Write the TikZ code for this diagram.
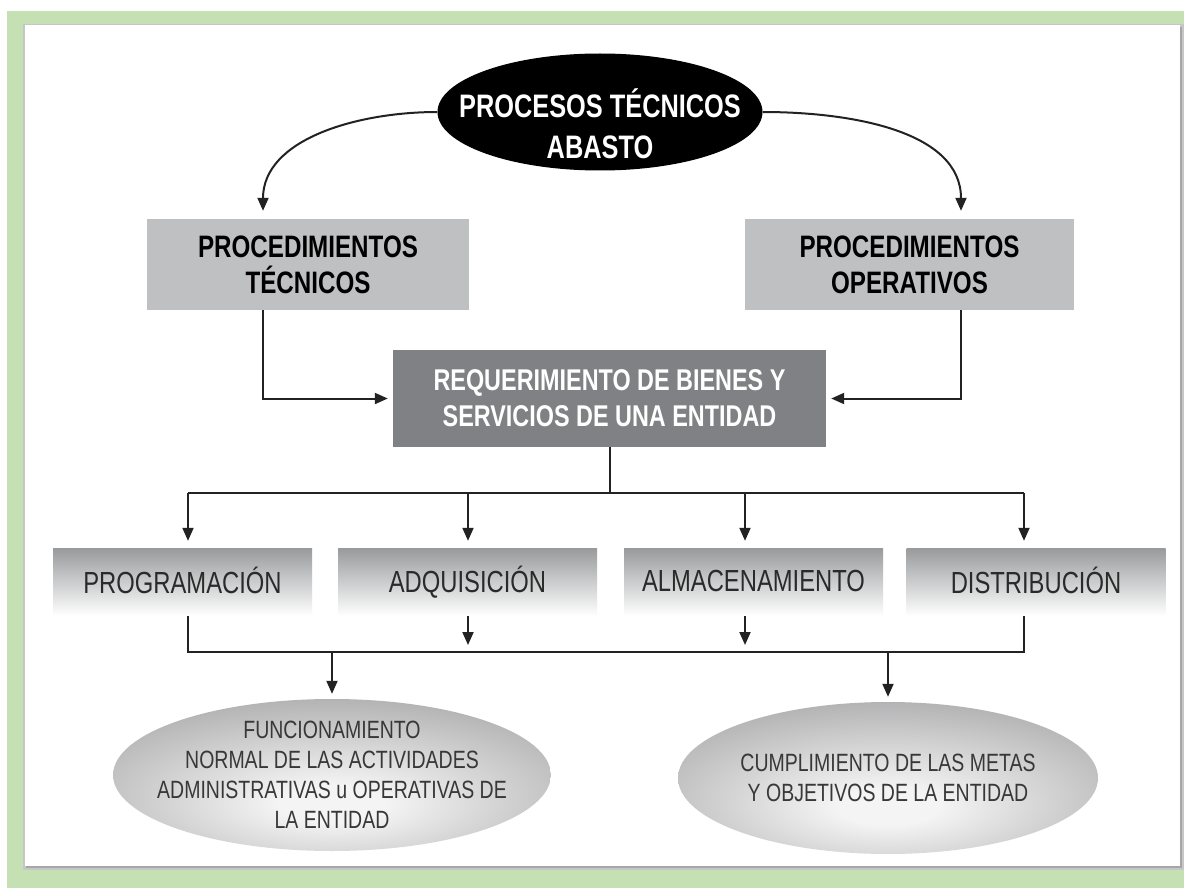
\documentclass[tikz,border=0pt]{standalone}
\usepackage{fontspec}
\setmainfont{Liberation Sans}[FakeStretch=0.78]
\usetikzlibrary{arrows.meta,shapes.geometric,calc}
\definecolor{bggreen}{HTML}{C5E0B3}
\definecolor{lightbox}{HTML}{BFC0C2}
\definecolor{darkbox}{HTML}{808184}
\definecolor{linec}{HTML}{222222}
\definecolor{rowtop}{HTML}{999A9C}
\definecolor{rowtxt}{HTML}{2A2A2A}
\definecolor{elltxt}{HTML}{383838}
\definecolor{ellouter}{HTML}{9A9A9C}
\definecolor{ellinner}{HTML}{F4F4F4}
\pgfdeclareradialshading{ellsh}{\pgfpoint{0bp}{-10bp}}{color(0bp)=(ellinner); color(6bp)=(ellinner); color(42bp)=(ellouter); color(100bp)=(ellouter)}
\begin{document}
\begin{tikzpicture}[x=1pt,y=-1pt,
  topell/.style={ellipse, fill=black, text=white, font=\fontsize{32.5}{38}\selectfont\bfseries,
    align=center, minimum width=325pt, minimum height=117pt, inner xsep=-45pt, inner ysep=-16pt},
  lbox/.style={rectangle, fill=lightbox, text=black, font=\fontsize{31}{36}\selectfont\bfseries,
    align=center, minimum height=91pt, inner sep=0pt},
  dbox/.style={rectangle, fill=darkbox, text=white, font=\fontsize{30}{36}\selectfont\bfseries,
    align=center, minimum width=433pt, minimum height=97pt, inner sep=0pt},
  rowbox/.style={rectangle, top color=rowtop, bottom color=white, text=rowtxt,
    font=\fontsize{30.5}{34}\selectfont, minimum width=259pt, minimum height=68pt, inner sep=0pt},
  endell/.style={ellipse, shading=ellsh, text=elltxt, font=\fontsize{25}{30}\selectfont,
    align=center, minimum width=420pt, minimum height=152pt, inner sep=-20pt},
  conn/.style={draw=linec, line width=2pt},
  arr/.style={conn, -{Triangle[length=13pt,width=11pt]}},
]
\useasboundingbox (0,0) rectangle (1184,888);
\fill[white] (0,0) rectangle (1184,888);
\fill[bggreen] (7,11) rectangle (1184,888);
\fill[gray!45] (23,24) rectangle (1184,870);
\fill[gray!70] (26,27) rectangle (1182,868);
\fill[white] (25,25) rectangle (1180,866);

% nodes
\node[topell] (top) at (600,112) {\raisebox{-17pt}[\height][\depth]{\begin{tabular}{@{}c@{}}PROCESOS TÉCNICOS\\[3pt]ABASTO\end{tabular}}};
\node[lbox, minimum width=322pt] (pt) at (308,264.5) {PROCEDIMIENTOS\\TÉCNICOS};
\node[lbox, minimum width=329pt] (po) at (909.5,264.5) {PROCEDIMIENTOS\\OPERATIVOS};
\node[dbox] (req) at (609.5,398.5) {REQUERIMIENTO DE BIENES Y\\SERVICIOS DE UNA ENTIDAD};
\node[rowbox] (prog) at (182.5,582) {\raisebox{3pt}{PROGRAMACIÓN}};
\node[rowbox] (adq) at (467.5,582) {\raisebox{3pt}{ADQUISICIÓN}};
\node[rowbox] (alm) at (753.5,582) {\raisebox{3pt}{ALMACENAMIENTO}};
\node[rowbox] (dis) at (1036,582) {\raisebox{3pt}{DISTRIBUCIÓN}};
\node[endell] (fun) at (332,775) {FUNCIONAMIENTO\\NORMAL DE LAS ACTIVIDADES\\ADMINISTRATIVAS u OPERATIVAS DE\\LA ENTIDAD};
\node[endell] (cum) at (888,778) {CUMPLIMIENTO DE LAS METAS\\Y OBJETIVOS DE LA ENTIDAD};

% coordinates
\coordinate (xl) at (263,0);
\coordinate (xr) at (961,0);
\coordinate (busA) at (188,493);
\coordinate (busB) at (1024,493);
\coordinate (xadq) at (468,0);
\coordinate (xalm) at (745,0);
\coordinate (busC) at (188,652);
\coordinate (busD) at (1024,652);
\coordinate (stopy) at (0,645);

% connectors
\draw[arr, shorten >=8pt] (top.west) to[out=180,in=90] (pt.north -| xl);
\draw[arr, shorten >=8pt] (top.east) to[out=0,in=90] (po.north -| xr);
\draw[arr, shorten >=5pt] (pt.south -| xl) |- (req.west);
\draw[arr, shorten >=5pt] (po.south -| xr) |- (req.east);
\draw[conn] (req.south) -- (req.south |- busA);
\draw[conn] (busA) -- (busB);
\draw[arr, shorten >=7pt] (busA) -- (prog.north -| busA);
\draw[arr, shorten >=7pt] (busA -| xadq) -- (adq.north -| xadq);
\draw[arr, shorten >=7pt] (busA -| xalm) -- (alm.north -| xalm);
\draw[arr, shorten >=7pt] (busB) -- (dis.north -| busB);
\draw[conn] (prog.south -| busC) -- (busC) -- (busD) -- (dis.south -| busD);
\draw[arr] (adq.south -| xadq) -- (stopy -| xadq);
\draw[arr] (alm.south -| xalm) -- (stopy -| xalm);
\draw[arr, shorten >=5pt] (fun.north |- busC) -- (fun.north);
\draw[arr, shorten >=5pt] (cum.north |- busC) -- (cum.north);
\end{tikzpicture}
\end{document}
